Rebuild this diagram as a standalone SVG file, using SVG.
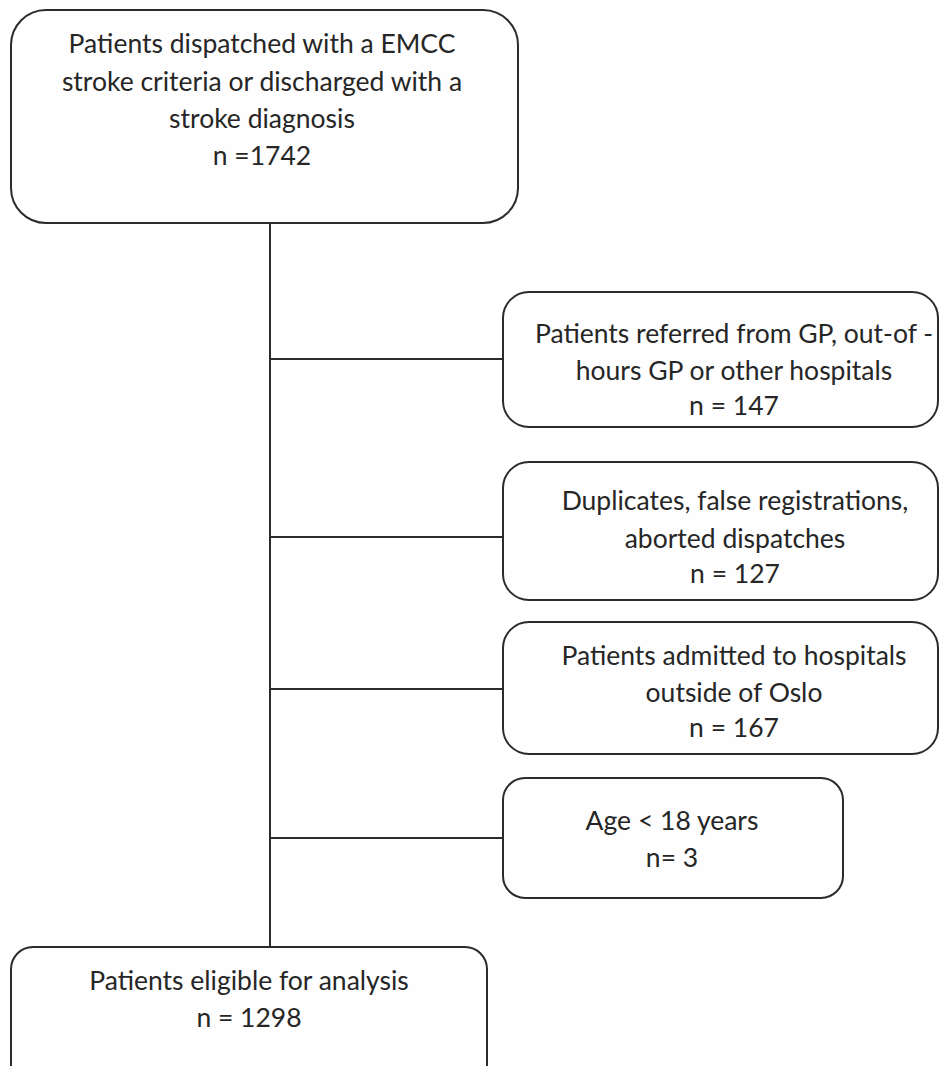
<svg xmlns="http://www.w3.org/2000/svg" width="939" height="1066" viewBox="0 0 939 1066">
<style>
.box{fill:#fefefe;stroke:#2b2b2b;stroke-width:2}
.t{font-family:Lato,"Open Sans","Liberation Sans",sans-serif;font-size:26.5px;fill:#262626;text-anchor:middle}
.c{stroke:#2b2b2b;stroke-width:2;fill:none}
</style>
<rect width="939" height="1066" fill="#ffffff"/>
<g id="connectors">
<line class="c" x1="270" y1="223" x2="270" y2="947"/>
<line class="c" x1="270" y1="359" x2="503" y2="359"/>
<line class="c" x1="270" y1="537" x2="503" y2="537"/>
<line class="c" x1="270" y1="689" x2="503" y2="689"/>
<line class="c" x1="270" y1="838" x2="503" y2="838"/>
</g>
<g id="start">
<rect class="box" x="11" y="10" width="507" height="213" rx="35"/>
<text class="t" x="262" y="53">Patients dispatched with a EMCC</text>
<text class="t" x="262" y="91">stroke criteria or discharged with a</text>
<text class="t" x="262" y="128">stroke diagnosis</text>
<text class="t" x="262" y="165">n =1742</text>
</g>
<g id="excl1">
<rect class="box" x="503" y="292" width="435" height="135" rx="26"/>
<text class="t" x="734" y="343">Patients referred from GP, out-of -</text>
<text class="t" x="734" y="380">hours GP or other hospitals</text>
<text class="t" x="734" y="415">n = 147</text>
</g>
<g id="excl2">
<rect class="box" x="503" y="462" width="435" height="138" rx="26"/>
<text class="t" x="735" y="510">Duplicates, false registrations,</text>
<text class="t" x="735" y="548">aborted dispatches</text>
<text class="t" x="735" y="583">n = 127</text>
</g>
<g id="excl3">
<rect class="box" x="503" y="622" width="435" height="132" rx="26"/>
<text class="t" x="734" y="665">Patients admitted to hospitals</text>
<text class="t" x="734" y="702">outside of Oslo</text>
<text class="t" x="734" y="737">n = 167</text>
</g>
<g id="excl4">
<rect class="box" x="503" y="778" width="340" height="120" rx="22"/>
<text class="t" x="672" y="830">Age &lt; 18 years</text>
<text class="t" x="672" y="867">n= 3</text>
</g>
<g id="final">
<rect class="box" x="11" y="947" width="476" height="140" rx="22"/>
<text class="t" x="249" y="990">Patients eligible for analysis</text>
<text class="t" x="249" y="1027">n = 1298</text>
</g>
</svg>
